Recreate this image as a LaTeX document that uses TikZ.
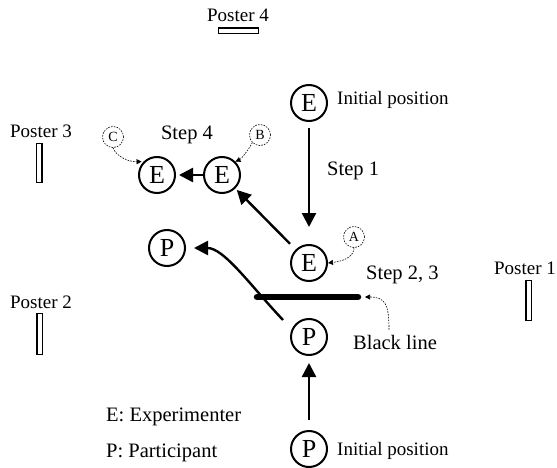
\documentclass[tikz,border=0pt]{standalone}
\usepackage{fontspec}
\setmainfont{Liberation Serif}
\usetikzlibrary{arrows.meta}
\begin{document}
\begin{tikzpicture}[x=1pt,y=-1pt,
  person/.style={circle,draw,line width=2pt,minimum size=36pt,inner sep=0pt,font=\fontsize{26}{26}\selectfont},
  tag/.style={circle,draw,line width=0.6pt,dash pattern=on 1.6pt off 1.2pt,minimum size=21pt,inner sep=0pt,font=\fontsize{14}{14}\selectfont},
  poster/.style={draw,line width=1.5pt,inner sep=0pt},
  lbl/.style={inner sep=0pt,font=\fontsize{19}{22}\selectfont},
  biglbl/.style={inner sep=0pt,font=\fontsize{20.5}{24}\selectfont},
  move/.style={line width=2.4pt,-{Triangle[length=14pt,width=14pt]}},
  note/.style={line width=0.6pt,dash pattern=on 1.6pt off 1.2pt,-{Triangle[length=5pt,width=5pt]}},
]
\useasboundingbox (0,0) rectangle (557,468);
% posters
\node[poster,minimum width=40pt,minimum height=5.5pt] (p4) at (238.5,31) {};
\node[poster,minimum width=5.5pt,minimum height=39pt] (p3) at (39,163) {};
\node[poster,minimum width=5.5pt,minimum height=41pt] (p2) at (39.5,334) {};
\node[poster,minimum width=5.5pt,minimum height=40pt] (p1) at (528.5,300.5) {};
\node[lbl] (t4) at (238,15) {Poster 4};
\node[lbl] (t3) at (41,131) {Poster 3};
\node[lbl] (t2) at (41,302) {Poster 2};
\node[lbl] (t1) at (525,268) {Poster 1};
% persons
\node[person] (E0) at (309,103) {E};
\node[person] (E1) at (309,263) {E};
\node[person] (E2) at (222,175) {E};
\node[person] (E3) at (157,175) {E};
\node[person] (P2) at (167,248) {P};
\node[person] (P1) at (309,337) {P};
\node[person] (P0) at (309,449) {P};
% tags
\node[tag] (A) at (354,237) {A};
\node[tag] (B) at (260,135) {B};
\node[tag] (C) at (113,137) {C};
% labels
\node[lbl,anchor=west] (init1) at (337,100) {Initial position};
\node[lbl,anchor=west] (init0) at (337,451) {Initial position};
\node[biglbl,anchor=west] (s1) at (327,171) {Step 1};
\node[biglbl] (s4) at (187,135) {Step 4};
\node[biglbl,anchor=west] (s23) at (366,275) {Step 2, 3};
\node[biglbl] (BL) at (395,342) {Black line};
\node[biglbl,anchor=west] (le) at (106,417) {E: Experimenter};
\node[biglbl,anchor=west] (lp) at (106,453) {P: Participant};
% black line
\coordinate (bl1) at (257,297);
\coordinate (bl2) at (358,297);
\draw[line width=6.5pt,line cap=round] (bl1) -- (bl2);
% moves
\draw[move,shorten <=6pt,shorten >=17pt] (E0) -- (E1);
\draw[move,shorten <=8pt,shorten >=2pt] (E1) -- (E2);
\draw[move,shorten <=0pt,shorten >=3pt] (E2) -- (E3);
\draw[move,shorten <=10pt,shorten >=7pt] (P0) -- (P1);
\coordinate (cs) at (283,320);
\draw[move] (cs) .. controls (250,285) and (224,248) .. ([xshift=8pt]P2.east);
% notes
\draw[note] (A.south) .. controls (354,256) and (345,261) .. (E1.east);
\draw[note] ([xshift=-6pt,yshift=5pt]BL.north) .. controls (389,304) and (385,297) .. ([xshift=7pt]bl2);
\draw[note] (B.south west) .. controls (247,152) and (241,159) .. (E2.north east);
\draw[note] (C.south) .. controls (116,156) and (128,162) .. ([xshift=-2pt]E3.north west);
\end{tikzpicture}
\end{document}
